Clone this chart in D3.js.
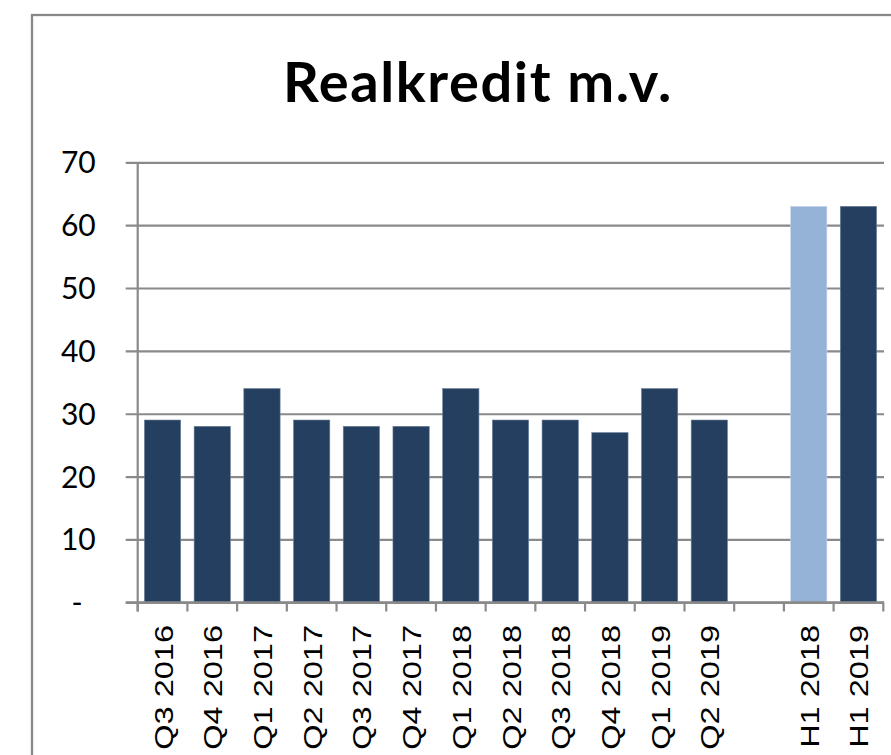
<!DOCTYPE html>
<html>
<head>
<meta charset="utf-8">
<script src="https://cdn.jsdelivr.net/npm/d3@7"></script>
<style>
  body { margin: 0; background: #fff; }
</style>
</head>
<body>
<div id="plot"></div>
<script>
var categories = ['Q3 2016', 'Q4 2016', 'Q1 2017', 'Q2 2017', 'Q3 2017', 'Q4 2017',
    'Q1 2018', 'Q2 2018', 'Q3 2018', 'Q4 2018', 'Q1 2019', 'Q2 2019',
    '', 'H1 2018', 'H1 2019'];
var values = [29, 28, 34, 29, 28, 28, 34, 29, 29, 27, 34, 29, null, 63, 63];
var lightBars = ['H1 2018'];
var yTicks = [0, 10, 20, 30, 40, 50, 60, 70];

var svg = d3.select('#plot')
    .append('svg')
    .attr('width', 891)
    .attr('height', 755);

// outer chart frame (right and bottom edge fall outside the window)
svg.append('rect')
    .attr('x', 32)
    .attr('y', 15)
    .attr('width', 900)
    .attr('height', 800)
    .attr('fill', '#fff')
    .attr('stroke', '#888')
    .attr('stroke-width', 2.3);

svg.append('text')
    .attr('x', 478)
    .attr('y', 102)
    .attr('text-anchor', 'middle')
    .attr('font-family', 'Lato, "Open Sans", sans-serif')
    .attr('font-weight', 'bold')
    .attr('font-size', 56)
    .attr('letter-spacing', 1.6)
    .attr('fill', '#000')
    .text('Realkredit m.v.');

var x = d3.scaleBand()
    .domain(categories.map(function (d, i) { return i; }))
    .range([137.7, 883.3])
    .paddingInner(0.27)
    .paddingOuter(0.135);

var y = d3.scaleLinear()
    .domain([0, 70])
    .range([602.3, 162.3]);

var grey = '#8a8a8a';

// gridlines + y labels
var yAxis = svg.append('g')
    .attr('transform', 'translate(137.7,0)')
    .call(d3.axisLeft(y)
        .tickValues(yTicks)
        .tickSize(12)
        .tickPadding(30)
        .tickFormat(function (d) { return d === 0 ? '-' : d; }));
yAxis.select('.domain').remove();
yAxis.selectAll('.tick line')
    .attr('x2', 884 - 137.7)
    .attr('x1', -12)
    .attr('stroke', grey)
    .attr('stroke-width', 2.2);
yAxis.selectAll('.tick text')
    .attr('font-family', 'Lato, "Open Sans", sans-serif')
    .attr('font-size', 30)
    .attr('fill', '#000')
    .attr('dy', '0.35em')
    .attr('dx', function (d) { return d === 0 ? -13 : 0; });

// vertical axis line
svg.append('line')
    .attr('x1', 137.7).attr('x2', 137.7)
    .attr('y1', y(70)).attr('y2', 611.5)
    .attr('stroke', grey)
    .attr('stroke-width', 2.2);

// bars
svg.append('g')
    .selectAll('rect')
    .data(values.map(function (v, i) { return { i: i, cat: categories[i], v: v }; })
        .filter(function (d) { return d.v !== null; }))
    .join('rect')
    .attr('x', function (d) { return x(d.i); })
    .attr('width', x.bandwidth())
    .attr('y', function (d) { return y(d.v); })
    .attr('height', function (d) { return y(0) - y(d.v); })
    .attr('fill', function (d) { return lightBars.indexOf(d.cat) >= 0 ? '#95b3d7' : '#243f60'; })
    .attr('stroke', function (d) { return lightBars.indexOf(d.cat) >= 0 ? '#c6d7ec' : '#6d819a'; })
    .attr('stroke-width', 0.6);

// x axis line and tick marks at slot boundaries
var step = x.step();
svg.append('line')
    .attr('x1', 125.7).attr('x2', 884)
    .attr('y1', y(0)).attr('y2', y(0))
    .attr('stroke', grey)
    .attr('stroke-width', 2.2);
svg.append('g')
    .selectAll('line')
    .data(d3.range(categories.length + 1))
    .join('line')
    .attr('x1', function (d) { return 137.7 + d * step; })
    .attr('x2', function (d) { return 137.7 + d * step; })
    .attr('y1', y(0))
    .attr('y2', 611.5)
    .attr('stroke', grey)
    .attr('stroke-width', 2.2);

// rotated category labels
svg.append('g')
    .selectAll('text')
    .data(categories.map(function (c, i) { return { i: i, cat: c }; }))
    .join('text')
    .attr('transform', function (d) {
        return 'translate(' + (x(d.i) + x.bandwidth() / 2 + 1) + ',625) rotate(-90) scale(1.3,1)';
    })
    .attr('text-anchor', 'end')
    .attr('dy', '0.36em')
    .attr('font-family', '"Liberation Sans", Arial, sans-serif')
    .attr('font-size', 25)
    .attr('fill', '#000')
    .text(function (d) { return d.cat; });
</script>
</body>
</html>
